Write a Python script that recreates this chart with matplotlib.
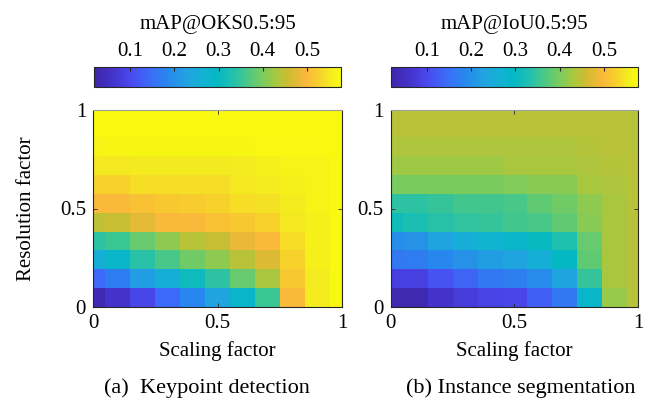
import matplotlib
matplotlib.use('Agg')
import numpy as np
import matplotlib.pyplot as plt
from matplotlib.colors import LinearSegmentedColormap

plt.rcParams['font.family'] = ['Liberation Serif', 'DejaVu Serif']
plt.rcParams['font.size'] = 15

# ===== data =====
# scaling factor (x) : 11 levels, resolution factor (y) : 11 levels (bottom -> top)
scaling = [0.0, 0.1, 0.2, 0.3, 0.4, 0.5, 0.6, 0.7, 0.8, 0.9, 1.0]
n_res = 11

# mAP@OKS0.5:95, rows = resolution level (bottom -> top), cols = scaling factor
map_kp = [
    [0.035, 0.063, 0.096, 0.141, 0.186, 0.230, 0.286, 0.353, 0.499, 0.555, 0.571],
    [0.141, 0.169, 0.219, 0.258, 0.309, 0.342, 0.387, 0.432, 0.516, 0.555, 0.571],
    [0.258, 0.286, 0.337, 0.365, 0.393, 0.415, 0.443, 0.471, 0.527, 0.560, 0.571],
    [0.342, 0.353, 0.387, 0.415, 0.443, 0.454, 0.482, 0.499, 0.538, 0.560, 0.571],
    [0.448, 0.454, 0.476, 0.499, 0.499, 0.510, 0.516, 0.527, 0.549, 0.560, 0.571],
    [0.499, 0.499, 0.510, 0.516, 0.521, 0.527, 0.538, 0.543, 0.555, 0.566, 0.571],
    [0.527, 0.527, 0.538, 0.538, 0.538, 0.538, 0.549, 0.555, 0.560, 0.566, 0.571],
    [0.549, 0.549, 0.552, 0.552, 0.552, 0.552, 0.555, 0.560, 0.566, 0.566, 0.571],
    [0.566, 0.569, 0.569, 0.569, 0.569, 0.569, 0.569, 0.571, 0.571, 0.571, 0.574],
    [0.574, 0.574, 0.574, 0.574, 0.574, 0.574, 0.574, 0.574, 0.574, 0.574, 0.574],
    [0.574, 0.574, 0.574, 0.574, 0.574, 0.574, 0.574, 0.574, 0.574, 0.574, 0.574],
]

# mAP@IoU0.5:95
map_seg = [
    [0.029, 0.029, 0.063, 0.079, 0.091, 0.096, 0.130, 0.163, 0.286, 0.420, 0.443],
    [0.085, 0.085, 0.113, 0.135, 0.163, 0.175, 0.191, 0.230, 0.348, 0.432, 0.443],
    [0.163, 0.169, 0.186, 0.202, 0.219, 0.230, 0.258, 0.298, 0.381, 0.432, 0.443],
    [0.197, 0.202, 0.230, 0.253, 0.270, 0.286, 0.303, 0.331, 0.387, 0.432, 0.443],
    [0.314, 0.325, 0.337, 0.345, 0.348, 0.359, 0.365, 0.381, 0.409, 0.432, 0.443],
    [0.342, 0.342, 0.348, 0.359, 0.359, 0.365, 0.381, 0.393, 0.415, 0.432, 0.443],
    [0.398, 0.398, 0.398, 0.398, 0.398, 0.404, 0.409, 0.409, 0.432, 0.437, 0.443],
    [0.426, 0.426, 0.426, 0.426, 0.426, 0.432, 0.432, 0.432, 0.437, 0.440, 0.443],
    [0.437, 0.437, 0.437, 0.437, 0.437, 0.437, 0.437, 0.437, 0.440, 0.443, 0.443],
    [0.443, 0.443, 0.443, 0.443, 0.443, 0.443, 0.443, 0.443, 0.443, 0.443, 0.443],
    [0.443, 0.443, 0.443, 0.443, 0.443, 0.443, 0.443, 0.443, 0.443, 0.443, 0.443],
]

titles = ['mAP@OKS0.5:95', 'mAP@IoU0.5:95']
captions = ['(a)  Keypoint detection', '(b) Instance segmentation']
cbar_ticks = [0.1, 0.2, 0.3, 0.4, 0.5]
VMIN, VMAX = 0.018, 0.577

# parula-like colormap (MATLAB default)
parula_pts = [0.0, 0.08, 0.15, 0.22, 0.30, 0.38, 0.45, 0.50, 0.56, 0.62, 0.68,
              0.74, 0.79, 0.86, 0.91, 0.96, 1.0]
parula_hex = ['#3e26a8', '#4434cc', '#4a4af0', '#3c6af8', '#2888ee', '#20a4e0',
              '#10b4d0', '#04b8c4', '#20c0b0', '#48c888', '#78cc60', '#a8c840',
              '#d0bc30', '#fbb83c', '#f8d02c', '#f4ec20', '#f9fb0e']
parula = LinearSegmentedColormap.from_list('parula', list(zip(parula_pts, parula_hex)))

# ===== figure =====
fig = plt.figure(figsize=(6.45, 4.05), dpi=100)
W, H = 645, 405

ax_px = [(93, 110, 249, 197), (390.5, 110, 247.5, 197)]
cb_px = [(94, 67, 247, 20), (390.5, 67, 247.5, 20)]
caption_x = [207, 521]

dx = scaling[1] - scaling[0]
row_h = 1 / (n_res - 0.5)  # top row is only half visible

for i, Z in enumerate([map_kp, map_seg]):
    x0, y0, w, h = ax_px[i]
    ax = fig.add_axes([x0 / W, 1 - (y0 + h) / H, w / W, h / H])
    im = ax.imshow(np.array(Z), origin='lower', cmap=parula, vmin=VMIN, vmax=VMAX,
                   extent=[scaling[0] - dx / 2, scaling[-1] + dx / 2, 0, n_res * row_h],
                   aspect='auto', interpolation='nearest')
    ax.set_xlim(0, 1)
    ax.set_ylim(0, 1)
    ax.set_xticks([0, 0.5, 1])
    ax.set_xticklabels(['0', '0.5', '1'])
    ax.set_yticks([0, 0.5, 1])
    ax.set_yticklabels(['0', '0.5', '1'])
    ax.tick_params(direction='in', length=3, width=0.6, top=True, right=True,
                   colors='#262626', labelcolor='black', pad=5)
    for s in ax.spines.values():
        s.set_color('#262626')
        s.set_linewidth(0.8)
    ax.spines['top'].set_color('#a0a0a0')
    ax.set_xlabel('Scaling factor', labelpad=6)
    if i == 0:
        ax.set_ylabel('Resolution factor', labelpad=17)

    # colorbar on top
    cx, cy, cw, ch = cb_px[i]
    cax = fig.add_axes([cx / W, 1 - (cy + ch) / H, cw / W, ch / H])
    cb = fig.colorbar(im, cax=cax, orientation='horizontal', ticks=cbar_ticks)
    cax.xaxis.set_ticks_position('top')
    cax.xaxis.set_label_position('top')
    cax.set_xticklabels([f'{t:.1f}' for t in cbar_ticks])
    cax.tick_params(direction='in', length=3, width=0.8, colors='#262626',
                    labelcolor='black', pad=4)
    cb.outline.set_edgecolor('#262626')
    cb.outline.set_linewidth(0.8)
    cax.set_xlabel(titles[i], labelpad=10)

    fig.text(caption_x[i] / W, 1 - 388 / H, captions[i], ha='center', va='center',
             fontsize=16)

fig.savefig('out.png', dpi=100, facecolor='white')
